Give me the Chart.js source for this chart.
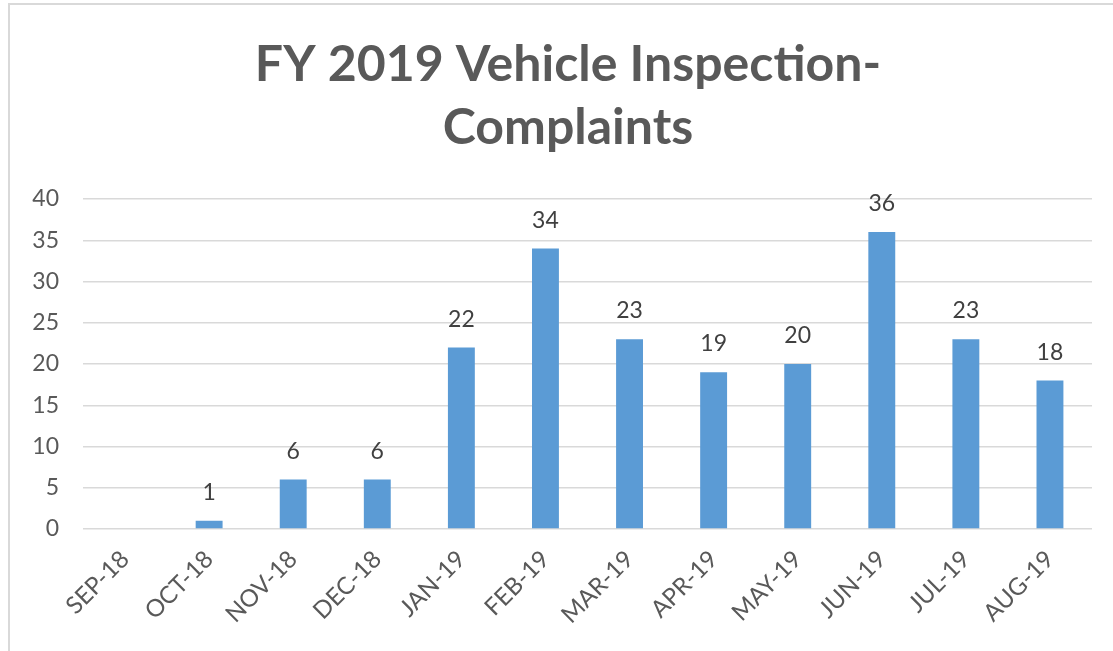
<!DOCTYPE html>
<html>
<head>
<meta charset="utf-8">
<script src="https://cdn.jsdelivr.net/npm/chart.js@4"></script>
<style>
  html, body { margin: 0; padding: 0; background: #fff; overflow: hidden; }
  #frame {
    position: absolute; left: 8px; top: 3px;
    border-left: 2px solid #d9d9d9; border-top: 2px solid #d9d9d9;
  }
  canvas { display: block; }
</style>
</head>
<body>
<div id="frame">
  <canvas id="myChart" width="1116" height="646"></canvas>
</div>
<script>
  const months = ['SEP-18', 'OCT-18', 'NOV-18', 'DEC-18', 'JAN-19', 'FEB-19',
                  'MAR-19', 'APR-19', 'MAY-19', 'JUN-19', 'JUL-19', 'AUG-19'];
  const complaints = [0, 1, 6, 6, 22, 34, 23, 19, 20, 36, 23, 18];
  const yTicks = [0, 5, 10, 15, 20, 25, 30, 35, 40];

  // numbers above the bars (skip the zero month like the original)
  const barLabels = {
    id: 'barLabels',
    afterDatasetsDraw(chart) {
      const ctx = chart.ctx;
      const meta = chart.getDatasetMeta(0);
      ctx.save();
      ctx.font = '23px Lato';
      ctx.fillStyle = '#404040';
      ctx.textAlign = 'center';
      ctx.textBaseline = 'alphabetic';
      meta.data.forEach((bar, i) => {
        if (!complaints[i]) return;
        ctx.fillText(String(complaints[i]), bar.x, bar.y - 21);
      });
      ctx.restore();
    }
  };

  const ctx = document.getElementById('myChart').getContext('2d');
  const myChart = new Chart(ctx, {
    type: 'bar',
    data: {
      labels: months,
      datasets: [{
        data: complaints,
        backgroundColor: '#5b9bd5',
        borderWidth: 0,
        categoryPercentage: 1,
        barPercentage: 0.32
      }]
    },
    options: {
      responsive: false,
      animation: false,
      layout: { padding: 0 },
      scales: {
        x: {
          grid: { display: false },
          border: { display: false },
          ticks: {
            color: '#595959',
            font: { family: 'Lato', size: 24 },
            minRotation: 45,
            maxRotation: 45,
            padding: 8
          },
          afterFit: s => { s.height = 122; }
        },
        y: {
          min: 0,
          max: 40,
          afterBuildTicks: s => { s.ticks = yTicks.map(v => ({ value: v })); },
          grid: { color: '#d9d9d9', lineWidth: 1.5, drawTicks: false },
          border: { display: false },
          ticks: {
            color: '#595959',
            font: { family: 'Lato', size: 23 },
            padding: 24
          },
          afterFit: s => { s.width = 73; }
        },
        // empty strip on the right so the title stays centred on the whole frame
        yRight: {
          position: 'right',
          grid: { display: false },
          border: { display: false },
          ticks: { display: false },
          afterFit: s => { s.width = 34; }
        }
      },
      plugins: {
        legend: { display: false },
        tooltip: { enabled: false },
        title: {
          display: true,
          text: ['FY 2019 Vehicle Inspection-', 'Complaints'],
          color: '#595959',
          font: { family: 'Lato', size: 50, weight: 'bold', lineHeight: 1.27 },
          padding: { top: 28, bottom: 39 }
        }
      }
    },
    plugins: [barLabels]
  });
</script>
</body>
</html>
